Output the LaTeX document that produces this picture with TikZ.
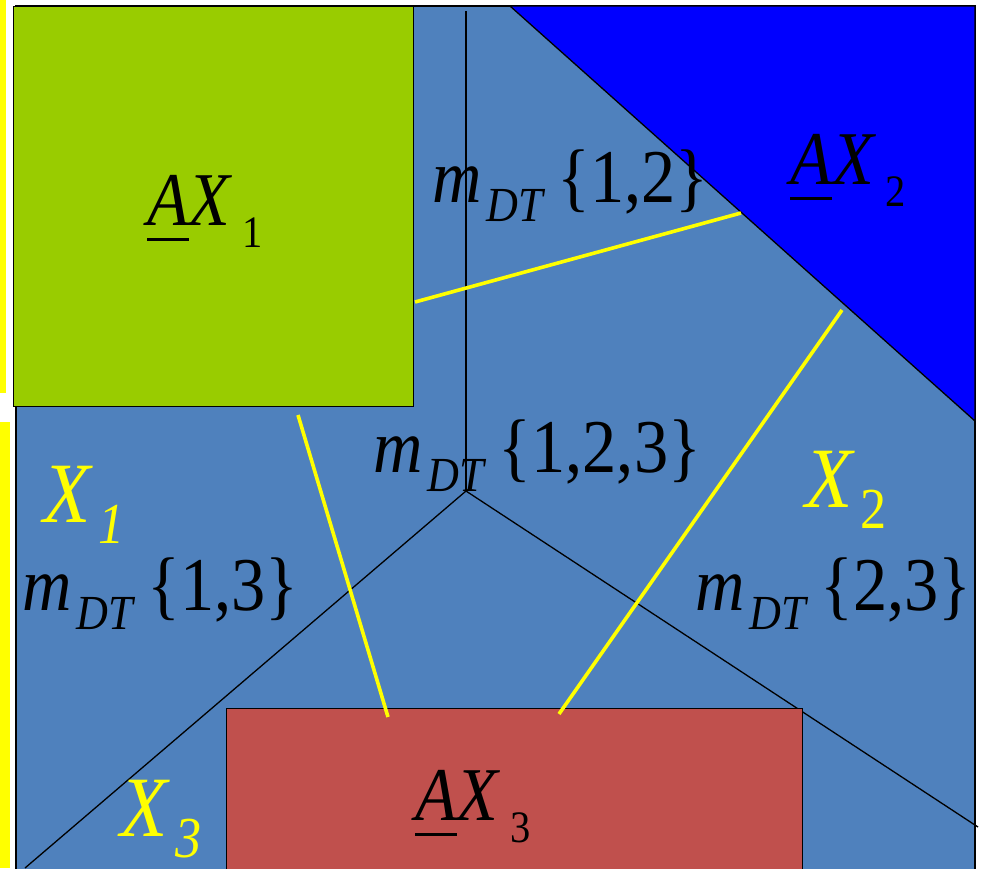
\documentclass[tikz,border=0pt]{standalone}
\usepackage{fontspec}
\setmainfont{Liberation Serif}
\newfontfamily\regionfont[FakeStretch=0.9]{Liberation Serif}
\usetikzlibrary{positioning}
\definecolor{regionblue}{RGB}{79,129,189}
\definecolor{axgreen}{RGB}{153,204,0}
\definecolor{axblue}{RGB}{0,0,255}
\definecolor{axred}{RGB}{192,80,77}
\definecolor{markyellow}{RGB}{255,255,0}
\newcommand{\mdt}[1]{\textit{m}\kern5pt\raisebox{-19pt}{\fontsize{49}{49}\selectfont\textit{DT}}\kern12pt\{#1\}}
\newcommand{\axlabel}[1]{\makebox[0pt][l]{\rule[-16pt]{42pt}{3pt}}\textit{AX}\kern10pt\raisebox{-22pt}{\fontsize{45}{45}\selectfont #1}}
\newcommand{\xlabel}[1]{\textit{X}\kern6pt\raisebox{-21pt}{\fontsize{58}{58}\selectfont #1}}

\begin{document}
\begin{tikzpicture}[x=1pt, y=-1pt,
  region/.style={draw=black, line width=1.3pt, inner sep=0pt, anchor=north west},
  part/.style={draw=black, line width=1.3pt},
  link/.style={draw=markyellow, line width=3.6pt},
  mlabel/.style={anchor=base west, inner sep=0pt, font=\regionfont\fontsize{76}{80}\selectfont},
  xlab/.style={mlabel, text=markyellow, font=\regionfont\fontsize{86}{90}\selectfont},
]
  \useasboundingbox (0,0) rectangle (982,868);
  % side bars and frame
  \fill[markyellow] (0,0) rectangle (6,393);
  \fill[markyellow] (0,422) rectangle (10,868);
  \draw[fill=regionblue, line width=1.3pt] (16,6) rectangle (975,890);

  % partition lines
  \coordinate (centre) at (466,491);
  \coordinate (top end) at (466,11);
  \coordinate (left end) at (25,868);
  \coordinate (right end) at (978,827);
  \draw[part] (centre) -- (top end);
  \draw[part] (centre) -- (left end);
  \draw[part] (centre) -- (right end);

  % regions
  \filldraw[fill=axblue, line width=1.3pt] (510,6) -- (975,6) -- (975,421) -- cycle;
  \node[region, fill=axgreen, minimum width=400, minimum height=400] (ax1) at (13,6) {};
  \node[region, fill=axred, minimum width=576, minimum height=180] (ax3) at (226,708) {};

  % yellow links
  \coordinate (a1) at (298,415);
  \coordinate (a2) at (388,717);
  \coordinate (b1) at (415,302);
  \coordinate (b2) at (741,213);
  \coordinate (c1) at (842,310);
  \coordinate (c2) at (559,714);
  \draw[link] (a1) -- (a2);
  \draw[link] (b1) -- (b2);
  \draw[link] (c1) -- (c2);

  % labels
  \node[mlabel] (l1) at (147,225) {\axlabel{1}};
  \node[mlabel] (l2) at (790,184) {\axlabel{2}};
  \node[mlabel] (l3) at (415,820) {\axlabel{3}};
  \node[mlabel] (m12) at (432,202) {\mdt{1,2}};
  \node[mlabel] (m123) at (373,472) {\mdt{1,2,3}};
  \node[mlabel] (m13) at (22,610) {\mdt{1,3}};
  \node[mlabel] (m23) at (695,610) {\mdt{2,3}};
  \node[xlab] (x1) at (43,522) {\xlabel{\textit{1}}};
  \node[xlab] (x2) at (805,507) {\xlabel{2}};
  \node[xlab] (x3) at (120,836) {\xlabel{\textit{3}}};
\end{tikzpicture}
\end{document}
